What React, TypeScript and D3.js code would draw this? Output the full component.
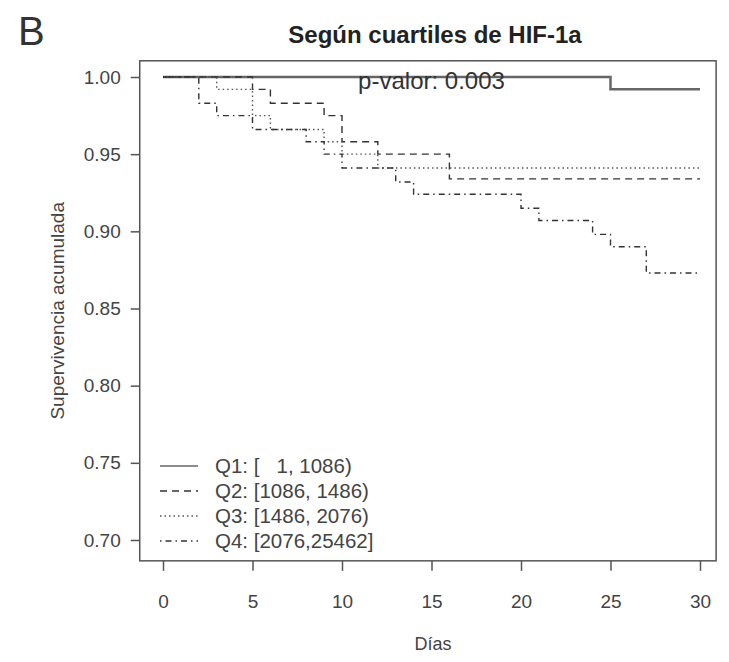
import React, { useEffect, useRef } from 'react';
import * as d3 from 'd3';

// Kaplan-Meier steps (day of each drop, survival after it)
const q1Days = [0, 25, 30];
const q1Surv = [1.0, 0.992, 0.992];
const q2Days = [0, 5, 6, 9, 10, 12, 16, 30];
const q2Surv = [1.0, 0.992, 0.983, 0.975, 0.958, 0.95, 0.934, 0.934];
const q3Days = [0, 3, 5, 6, 9, 10, 12, 30];
const q3Surv = [1.0, 0.992, 0.975, 0.966, 0.958, 0.95, 0.941, 0.941];
const q4Days = [0, 2, 3, 5, 8, 9, 10, 13, 14, 20, 21, 24, 25, 27, 30];
const q4Surv = [1.0, 0.983, 0.975, 0.966, 0.958, 0.95, 0.941, 0.932, 0.924, 0.915, 0.907, 0.898, 0.89, 0.873, 0.873];

const groupLabels = ['Q1: [   1, 1086)', 'Q2: [1086, 1486)', 'Q3: [1486, 2076)', 'Q4: [2076,25462]'];
const xTicks = [0, 5, 10, 15, 20, 25, 30];
const yTicks = [0.7, 0.75, 0.8, 0.85, 0.9, 0.95, 1.0];

const FONT = '"Liberation Sans", Arial, sans-serif';

export default function App() {
  const svgRef = useRef<SVGSVGElement>(null);

  useEffect(() => {
    const width = 729;
    const height = 662;

    const svg = d3.select(svgRef.current);
    svg.selectAll('*').remove();
    svg.attr('width', width).attr('height', height);

    svg.append('rect').attr('width', width).attr('height', height).attr('fill', '#fff');

    const x = d3.scaleLinear().domain([0, 30]).range([163, 700]);
    const y = d3.scaleLinear().domain([0.7, 1.0]).range([540, 77]);

    // plot box (R adds 4% each side)
    const bx0 = x(-1.3), bx1 = x(30.9), by0 = y(1.0105), by1 = y(0.6865);
    svg.append('rect')
      .attr('x', bx0).attr('y', by0)
      .attr('width', bx1 - bx0).attr('height', by1 - by0)
      .attr('fill', 'none').attr('stroke', '#555').attr('stroke-width', 1.5);

    // axes
    const xAxisG = svg.append('g')
      .attr('transform', `translate(0,${by1})`)
      .call(d3.axisBottom(x).tickValues(xTicks).tickSize(10).tickPadding(24).tickFormat(d3.format('d')));
    const yAxisG = svg.append('g')
      .attr('transform', `translate(${bx0},0)`)
      .call(d3.axisLeft(y).tickValues(yTicks).tickSize(9).tickPadding(10).tickFormat(d3.format('.2f')));

    [xAxisG, yAxisG].forEach(g => {
      g.select('.domain').remove();
      g.selectAll('line').attr('stroke', '#555').attr('stroke-width', 1.5);
      g.selectAll('text').attr('fill', '#444').attr('font-size', 19).attr('font-family', FONT);
    });

    // axis titles
    svg.append('text')
      .attr('x', 433).attr('y', 650)
      .attr('text-anchor', 'middle')
      .attr('font-size', 18).attr('font-family', FONT).attr('fill', '#444')
      .text('Días');

    svg.append('text')
      .attr('transform', `translate(64,${(by0 + by1) / 2}) rotate(-90)`)
      .attr('text-anchor', 'middle')
      .attr('font-size', 19).attr('font-family', FONT).attr('fill', '#444')
      .text('Supervivencia acumulada');

    // title + panel letter
    svg.append('text')
      .attr('x', 435).attr('y', 43)
      .attr('text-anchor', 'middle')
      .attr('font-size', 24).attr('font-weight', 'bold').attr('font-family', FONT).attr('fill', '#222')
      .text('Según cuartiles de HIF-1a');

    svg.append('text')
      .attr('x', 18).attr('y', 45)
      .attr('font-size', 40).attr('font-family', FONT).attr('fill', '#333')
      .text('B');

    // curves
    const groups = [
      { days: q1Days, surv: q1Surv, dash: null, color: '#666', w: 2.5 },
      { days: q2Days, surv: q2Surv, dash: '7,5', color: '#333', w: 1.4 },
      { days: q3Days, surv: q3Surv, dash: '1.5,3', color: '#555', w: 1.4 },
      { days: q4Days, surv: q4Surv, dash: '1.5,4,6,4', color: '#333', w: 1.4 },
    ];

    const line = d3.line<[number, number]>()
      .x(d => x(d[0]))
      .y(d => y(d[1]))
      .curve(d3.curveStepAfter);

    groups.forEach(gr => {
      const pts = gr.days.map((d, i) => [d, gr.surv[i]] as [number, number]);
      svg.append('path')
        .attr('d', line(pts))
        .attr('fill', 'none')
        .attr('stroke', gr.color)
        .attr('stroke-width', gr.w)
        .attr('stroke-dasharray', gr.dash);
    });

    // p-value
    svg.append('text')
      .attr('x', x(15)).attr('y', y(0.9975))
      .attr('dy', '0.35em')
      .attr('text-anchor', 'middle')
      .attr('font-size', 24).attr('font-family', FONT).attr('fill', '#333')
      .text('p-valor: 0.003');

    // legend
    const leg = svg.append('g');
    groups.forEach((gr, i) => {
      const ly = 466 + i * 25;
      leg.append('line')
        .attr('x1', 160).attr('x2', 198).attr('y1', ly).attr('y2', ly)
        .attr('stroke', gr.color)
        .attr('stroke-width', i === 0 ? 1.6 : 1.4)
        .attr('stroke-dasharray', gr.dash);
      leg.append('text')
        .attr('x', 215).attr('y', ly).attr('dy', '0.35em')
        .attr('font-size', 20.5).attr('font-family', FONT).attr('fill', '#444')
        .style('white-space', 'pre')
        .text(groupLabels[i]);
    });
  }, []);

  return (
    <div style={{ position: 'absolute', left: 0, top: 0, background: '#fff' }}>
      <svg ref={svgRef}></svg>
    </div>
  );
}
